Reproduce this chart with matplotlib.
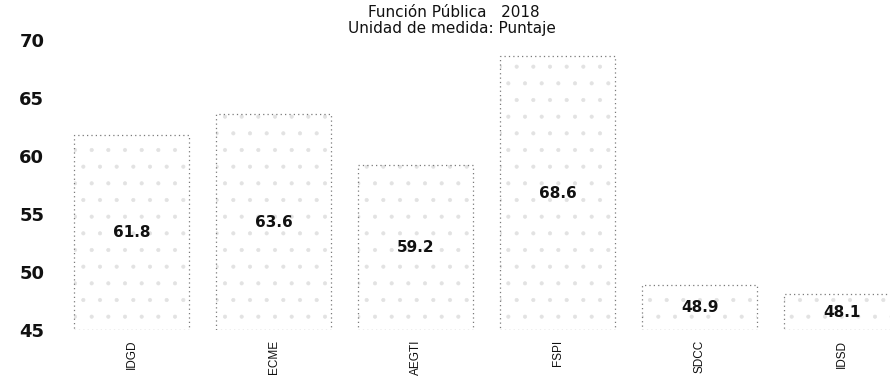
import matplotlib.pyplot as plt

# Puntaje por indicador, Función Pública 2018
indicadores = ["IDGD", "ECME", "AEGTI", "FSPI", "SDCC", "IDSD"]
puntaje = [61.8, 63.6, 59.2, 68.6, 48.9, 48.1]
y_ticks = [45, 50, 55, 60, 65, 70]

plt.rcParams["hatch.linewidth"] = 0.5

fig = plt.figure(figsize=(8.9, 3.78), dpi=100)
ax = fig.add_axes([0.0685, 0.127, 0.933, 0.767])

base = y_ticks[0]
x = list(range(len(indicadores)))
alturas = [v - base for v in puntaje]

# light speckled fill, then the dotted outline on top
ax.bar(x, alturas, bottom=base, width=0.81, color="white",
       edgecolor="#e2e2e2", linewidth=0, hatch=".")
bars = ax.bar(x, alturas, bottom=base, width=0.81, fill=False,
              edgecolor="#7a7a7a", linewidth=0.9, linestyle=(0, (1, 2.5)))

for b, v in zip(bars, puntaje):
    ax.text(b.get_x() + b.get_width() / 2, base + (v - base) / 2, f"{v:.1f}",
            ha="center", va="center", fontsize=11, fontweight="bold",
            color="#111111", family="DejaVu Sans")

ax.set_xlim(-0.5, 5.35)
ax.set_ylim(45, 70)
ax.set_yticks(y_ticks)
ax.set_yticklabels([str(t) for t in y_ticks], fontsize=13, fontweight="bold",
                   family="DejaVu Sans", color="#111111")
ax.set_xticks(x)
ax.set_xticklabels(indicadores, rotation=90, fontsize=8.5,
                   family="Liberation Sans", color="#111111")
ax.tick_params(axis="y", length=0, pad=12)
ax.tick_params(axis="x", length=0, pad=7)
for s in ax.spines.values():
    s.set_visible(False)

fig.text(0.51, 0.968, "Función Pública   2018", ha="center", va="center",
         fontsize=11, family="DejaVu Sans", color="#111111")
fig.text(0.508, 0.924, "Unidad de medida: Puntaje", ha="center", va="center",
         fontsize=11, family="DejaVu Sans", color="#111111")

fig.savefig("out.png", dpi=100, facecolor="white")
